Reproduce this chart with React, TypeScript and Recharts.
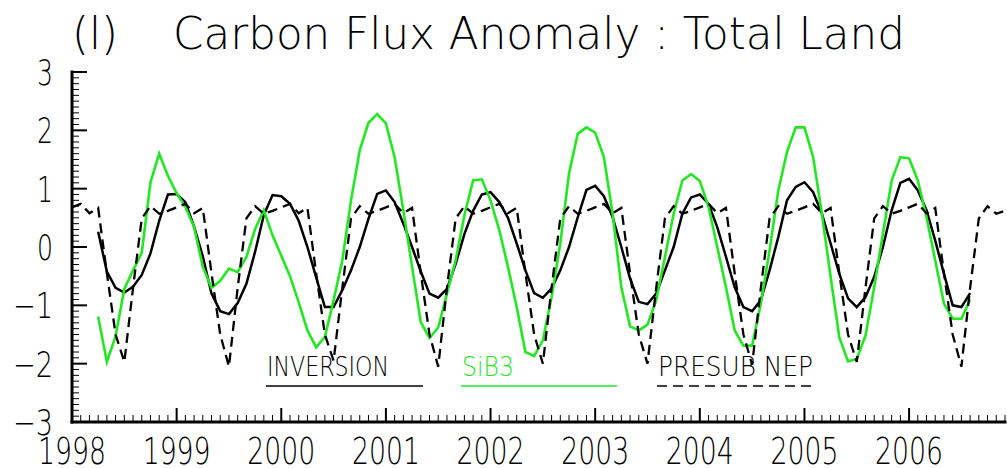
import React from "react";
import { LineChart, Line, XAxis, YAxis } from "recharts";

const START_YEAR = 1998;
const YEAR_TICKS = [1998, 1999, 2000, 2001, 2002, 2003, 2004, 2005, 2006];
const Y_TICKS = [-3, -2, -1, 0, 1, 2, 3];
const TITLE_TAG = "(l)";
const TITLE = "Carbon Flux Anomaly : Total Land";

// monthly values, Jan 1998 .. Dec 2006, one row per year (null = no data)
const INVERSION = [
  null, null, null, 0.26, -0.42, -0.7, -0.78, -0.68, -0.48, -0.11, 0.45, 0.9,
  0.91, 0.77, 0.35, -0.16, -0.8, -1.1, -1.15, -0.96, -0.63, -0.08, 0.55, 0.89,
  0.87, 0.74, 0.45, 0.0, -0.52, -1.03, -1.03, -0.74, -0.4, 0.0, 0.48, 0.91,
  0.97, 0.77, 0.4, 0.0, -0.42, -0.8, -0.87, -0.72, -0.29, 0.22, 0.62, 0.9,
  0.94, 0.77, 0.5, 0.06, -0.4, -0.79, -0.87, -0.71, -0.4, 0.0, 0.51, 0.98,
  1.05, 0.87, 0.51, 0.0, -0.54, -0.94, -0.98, -0.8, -0.4, 0.0, 0.57, 0.85,
  0.9, 0.74, 0.34, -0.17, -0.69, -1.03, -1.1, -0.91, -0.4, 0.17, 0.8, 1.03,
  1.11, 0.94, 0.57, 0.06, -0.46, -0.88, -1.03, -0.86, -0.51, 0.0, 0.63, 1.1,
  1.17, 0.97, 0.63, 0.11, -0.46, -1.0, -1.03, -0.79, null, null, null, null,
];

const SIB3 = [
  null, null, null, -1.19, -1.97, -1.53, -0.72, -0.4, -0.1, 1.11, 1.6, 1.22,
  0.92, 0.69, 0.34, -0.34, -0.7, -0.58, -0.37, -0.43, -0.17, 0.31, 0.63, 0.2,
  -0.15, -0.5, -0.95, -1.43, -1.72, -1.54, -0.91, -0.23, 0.8, 1.66, 2.13, 2.28,
  2.12, 1.54, 0.63, -0.34, -1.29, -1.56, -1.38, -0.8, -0.23, 0.54, 1.14, 1.16,
  0.8, 0.29, -0.34, -1.03, -1.8, -1.87, -1.6, -0.86, 0.06, 1.26, 1.94, 2.05,
  1.96, 1.54, 0.57, -0.69, -1.36, -1.43, -1.33, -0.91, -0.17, 0.57, 1.14, 1.25,
  1.13, 0.69, 0.0, -0.69, -1.43, -1.69, -1.69, -0.97, -0.06, 0.97, 1.63, 2.05,
  2.05, 1.54, 0.57, -0.51, -1.55, -1.96, -1.92, -1.52, -0.69, 0.23, 1.14, 1.54,
  1.52, 1.14, 0.51, -0.23, -0.97, -1.23, -1.23, -0.9, null, null, null, null,
];

const PRESUB_NEP = [
  0.68, 0.74, 0.58, 0.67, -0.45, -1.5, -1.97, -0.7, 0.49, 0.7, 0.57, 0.62,
  0.68, 0.74, 0.58, 0.67, -0.45, -1.5, -2.05, -0.7, 0.49, 0.7, 0.57, 0.62,
  0.68, 0.74, 0.58, 0.67, -0.45, -1.5, -1.95, -0.7, 0.49, 0.7, 0.57, 0.62,
  0.68, 0.74, 0.58, 0.67, -0.45, -1.5, -2.05, -0.7, 0.49, 0.7, 0.57, 0.62,
  0.68, 0.74, 0.58, 0.67, -0.45, -1.5, -2.0, -0.7, 0.49, 0.7, 0.57, 0.62,
  0.68, 0.74, 0.58, 0.67, -0.45, -1.5, -2.0, -0.7, 0.49, 0.7, 0.57, 0.62,
  0.68, 0.74, 0.58, 0.67, -0.45, -1.5, -2.02, -0.7, 0.49, 0.7, 0.57, 0.62,
  0.68, 0.74, 0.58, 0.67, -0.45, -1.5, -1.97, -0.7, 0.49, 0.7, 0.57, 0.62,
  0.68, 0.74, 0.58, 0.67, -0.45, -1.5, -2.05, -0.7, 0.49, 0.7, 0.57, 0.62,
];

const SERIES = [
  { key: "inversion", name: "INVERSION", color: "#000000", dash: undefined as string | undefined, width: 2.5 },
  { key: "sib3", name: "SiB3", color: "#22e822", dash: undefined as string | undefined, width: 2.6 },
  { key: "presub", name: "PRESUB NEP", color: "#000000", dash: "10 6", width: 2.3 },
];

const rows = PRESUB_NEP.map((v, i) => ({
  t: START_YEAR + i / 12,
  inversion: INVERSION[i],
  sib3: SIB3[i],
  presub: v,
}));

const X_END = START_YEAR + (PRESUB_NEP.length - 1) / 12;
const xMinor: number[] = [];
YEAR_TICKS.forEach((yr) => {
  for (let m = 0; m < 12; m++) xMinor.push(yr + m / 12);
});
const yMinor: number[] = [];
for (let i = 0; i <= 60; i++) yMinor.push(Math.round((Y_TICKS[0] + i / 10) * 10) / 10);

const FONT = "'DejaVu Sans', sans-serif";
const isMajor = (v: number) => Math.abs(v - Math.round(v)) < 1e-6;

const XTick = (props: any) => {
  const { x, y, payload, side } = props;
  const v = payload.value;
  const major = isMajor(v);
  const dir = side === "bottom" ? -1 : 1;
  const cx = Math.max(x, 34); // first label is pushed in from the page edge
  return (
    <g>
      <line x1={x} y1={y} x2={x} y2={y + dir * (major ? 14 : 7)} stroke="#000" strokeWidth={major ? 2 : 1} />
      {side === "bottom" && major && (
        <text x={cx} y={y + 42} textAnchor="middle" fontSize={37} fontFamily={FONT} fontWeight={200}
          textLength={68} lengthAdjust="spacingAndGlyphs" fill="#000">
          {Math.round(v)}
        </text>
      )}
    </g>
  );
};

const YTick = (props: any) => {
  const { x, y, payload, side } = props;
  const v = payload.value;
  const major = isMajor(v);
  const dir = side === "left" ? 1 : -1;
  const n = Math.round(v);
  const label = n < 0 ? "\u2212" + Math.abs(n) : String(n);
  return (
    <g>
      <line x1={x} y1={y} x2={x + dir * (major ? 15 : 7)} y2={y} stroke="#000" strokeWidth={major ? 2 : 1} />
      {side === "left" && major && (
        <text x={x - 19} y={y + 13} textAnchor="end" fontSize={36} fontFamily={FONT} fontWeight={200}
          textLength={n < 0 ? 40 : 16} lengthAdjust="spacingAndGlyphs" fill="#000">
          {label}
        </text>
      )}
    </g>
  );
};

const LEGEND_POS = [
  { x: 266, w: 157, tw: 122 },
  { x: 461, w: 156, tw: 52 },
  { x: 657, w: 156, tw: 155 },
];

const frame = { stroke: "#000", strokeWidth: 3, strokeLinecap: "square" as const };

export default function App() {
  return (
    <div style={{ position: "absolute", left: 0, top: 0, width: 1007, height: 468, background: "#fff" }}>
      <LineChart width={1007} height={468} data={rows} margin={{ top: 72, right: 2, bottom: 0, left: 0 }}>
        <XAxis xAxisId="bottom" dataKey="t" type="number" domain={[START_YEAR, X_END]} allowDataOverflow
          ticks={xMinor} interval={0} height={46} tickSize={0} tickMargin={0}
          axisLine={frame} tickLine={false} tick={<XTick side="bottom" />} />
        <XAxis xAxisId="top" dataKey="t" type="number" orientation="top" domain={[START_YEAR, X_END]} allowDataOverflow
          ticks={xMinor} interval={0} height={0} tickSize={0} tickMargin={0}
          axisLine={frame} tickLine={false} tick={<XTick side="top" />} />
        <YAxis yAxisId="left" type="number" domain={[-3, 3]} allowDataOverflow ticks={yMinor} interval={0}
          width={72} tickSize={0} tickMargin={0} axisLine={frame} tickLine={false} tick={<YTick side="left" />} />
        <YAxis yAxisId="right" orientation="right" type="number" domain={[-3, 3]} allowDataOverflow ticks={yMinor}
          interval={0} width={0} tickSize={0} tickMargin={0} axisLine={frame} tickLine={false}
          tick={<YTick side="right" />} />
        {SERIES.map((s) => (
          <Line key={s.key} xAxisId="bottom" yAxisId="left" type="linear" dataKey={s.key} name={s.name}
            stroke={s.color} strokeWidth={s.width} strokeDasharray={s.dash} dot={false}
            activeDot={false} isAnimationActive={false} />
        ))}
      </LineChart>
      <svg width={1007} height={468} style={{ position: "absolute", left: 0, top: 0, pointerEvents: "none" }}>
        <text x={72} y={49} fontSize={45} fontFamily={FONT} fontWeight={200} textLength={46}
          lengthAdjust="spacingAndGlyphs">{TITLE_TAG}</text>
        <text x={173} y={49} fontSize={45} fontFamily={FONT} fontWeight={200} textLength={732}
          lengthAdjust="spacingAndGlyphs">{TITLE}</text>
        {SERIES.map((s, i) => {
          const p = LEGEND_POS[i];
          return (
            <g key={s.key}>
              <text x={p.x + 1} y={376} fontSize={26} fontFamily={FONT} fontWeight={200} fill={s.color}
                textLength={p.tw} lengthAdjust="spacingAndGlyphs">{s.name}</text>
              <line x1={p.x} y1={386} x2={p.x + p.w} y2={386} stroke={s.color} strokeWidth={1.5}
                strokeDasharray={s.dash} />
            </g>
          );
        })}
      </svg>
    </div>
  );
}
